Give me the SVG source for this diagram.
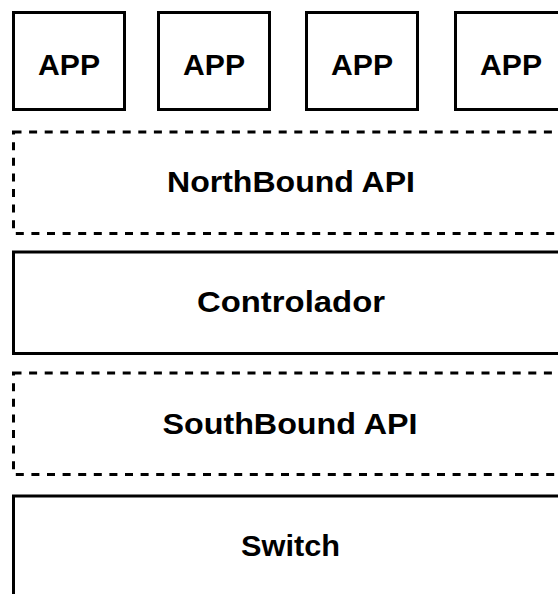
<svg xmlns="http://www.w3.org/2000/svg" width="558" height="594" viewBox="0 0 558 594">
  <style>
    .box { fill: #ffffff; stroke: #000000; stroke-width: 3; }
    .dash { fill: #ffffff; stroke: #000000; stroke-width: 3; stroke-dasharray: 8 7.6; }
    .lbl { font-family: "Liberation Sans", Arial, Helvetica, sans-serif; font-weight: bold; font-size: 30px; fill: #000000; text-anchor: middle; }
  </style>
  <rect width="558" height="594" fill="#ffffff"/>

  <!-- application layer -->
  <g id="app1">
    <rect class="box" x="13.5" y="12.5" width="111" height="97"/>
    <text class="lbl" x="69" y="75" textLength="62" lengthAdjust="spacingAndGlyphs">APP</text>
  </g>
  <g id="app2">
    <rect class="box" x="158.5" y="12.5" width="111" height="97"/>
    <text class="lbl" x="214" y="75" textLength="62" lengthAdjust="spacingAndGlyphs">APP</text>
  </g>
  <g id="app3">
    <rect class="box" x="306.5" y="12.5" width="111" height="97"/>
    <text class="lbl" x="362" y="75" textLength="62" lengthAdjust="spacingAndGlyphs">APP</text>
  </g>
  <g id="app4">
    <rect class="box" x="455.5" y="12.5" width="111" height="97"/>
    <text class="lbl" x="511" y="75" textLength="62" lengthAdjust="spacingAndGlyphs">APP</text>
  </g>

  <!-- northbound interface -->
  <g id="northbound">
    <rect class="dash" x="13.5" y="132" width="555" height="101.5"/>
    <text class="lbl" x="291" y="192" textLength="248" lengthAdjust="spacingAndGlyphs">NorthBound API</text>
  </g>

  <!-- controller -->
  <g id="controlador">
    <rect class="box" x="13.5" y="252" width="555" height="101.5"/>
    <text class="lbl" x="291" y="312" textLength="188" lengthAdjust="spacingAndGlyphs">Controlador</text>
  </g>

  <!-- southbound interface -->
  <g id="southbound">
    <rect class="dash" x="13.5" y="373" width="555" height="101.5"/>
    <text class="lbl" x="290" y="434" textLength="255" lengthAdjust="spacingAndGlyphs">SouthBound API</text>
  </g>

  <!-- forwarding device -->
  <g id="switch">
    <rect class="box" x="13.5" y="496" width="555" height="101.5"/>
    <text class="lbl" x="290.5" y="556" textLength="99" lengthAdjust="spacingAndGlyphs">Switch</text>
  </g>

  <g id="connectors"></g>
</svg>
